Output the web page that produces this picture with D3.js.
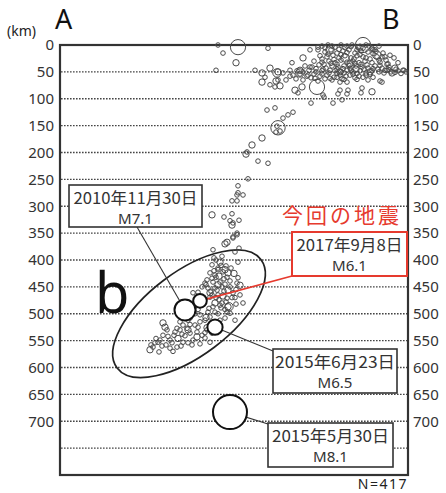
<!DOCTYPE html>
<html><head><meta charset="utf-8">
<script src="https://cdn.jsdelivr.net/npm/d3@7"></script>
<style>body{margin:0;background:#fff;} svg{display:block;}</style>
</head><body>
<svg id="chart" width="446" height="493"></svg>
<script>
// ---- data ----
const depthTicks = [0,50,100,150,200,250,300,350,400,450,500,550,600,650,700];
const gridDepths = [50,100,150,200,250,300,350,400,450,500,550,600,650,700,750];
// [distance along A-B (km, arbitrary origin), depth (km), magnitude]
const quakes = [
 // shallow sparse
 [158,0,4.3],[178,4,6.5],[163,15,4.3],[176,33,5.0],[208,6,4.3],[156,47,4.3],[205,60,4.3],[218,50,5.0],
 [216,67,5.0],[215,78,4.3],[230,58,4.3],[232,33,4.3],[240,47,5.0],[243,24,5.0],[235,84,5.0],[242,78,5.0],
 [257,78,6.5],[250,41,4.3],[258,4,4.3],[250,9,4.3],[264,97,4.3],[251,108,4.3],[273,108,4.3],[282,102,4.3],
 [280,69,4.3],[287,69,4.3],[280,84,4.3],[288,84,4.3],[302,80,4.3],[312,87,5.0],[322,69,4.3],[322,22,4.3],
 [303,0,6.5],[313,9,4.3],[335,43,5.0],[327,47,4.3],[277,60,4.3],[195,47,4.3],[202,52,5.0],[210,43,5.0],
 [223,52,4.3],[226,65,4.3],[220,76,5.0],[202,69,5.0],[210,74,4.3],[217,52,5.5],[218,65,4.3],[238,89,4.3],
 [263,93,4.3],[278,91,4.3],[287,91,4.3],[301,89,4.3],[320,67,4.3],
 // shallow dense core
 [262,2,4.3],[268,0,4.3],[275,4,4.3],[281,0,4.3],[287,2,4.3],[292,0,4.3],[298,4,4.3],[306,0,4.3],[312,6,4.3],[319,2,4.3],
 [258,9,4.3],[265,13,4.3],[271,9,4.3],[277,15,4.3],[283,11,4.3],[289,9,4.3],[295,15,4.3],[301,11,4.3],[308,13,4.3],[315,9,4.3],[323,15,4.3],[330,19,4.3],
 [260,20,4.3],[267,22,4.3],[273,19,4.3],[279,24,4.3],[285,20,4.3],[291,24,4.3],[297,20,4.3],[303,22,4.3],[310,26,4.3],[317,22,4.3],[326,28,4.3],[334,24,4.3],
 [254,30,4.3],[262,32,4.3],[269,30,4.3],[275,33,4.3],[281,28,4.3],[287,32,4.3],[293,30,4.3],[299,33,4.3],[305,30,4.3],[312,33,4.3],[320,32,4.3],[328,35,4.3],[338,33,4.3],
 [245,39,4.3],[252,41,4.3],[259,37,4.3],[266,43,4.3],[272,39,4.3],[278,41,4.3],[284,39,4.3],[290,43,4.3],[296,39,4.3],[302,41,4.3],[308,43,4.3],[315,39,4.3],[322,43,4.3],[329,41,4.3],[336,45,4.3],[343,47,4.3],
 [230,47,4.3],[237,48,4.3],[243,50,4.3],[249,47,4.3],[256,50,4.3],[262,48,4.3],[269,52,4.3],[275,48,4.3],[281,50,4.3],[287,47,4.3],[293,50,4.3],[300,48,4.3],[306,52,4.3],[312,48,4.3],[319,50,4.3],[325,47,4.3],[331,50,4.3],[338,48,4.3],[344,47,4.3],
 [233,56,4.3],[240,54,4.3],[247,58,4.3],[254,54,4.3],[260,58,4.3],[267,56,4.3],[274,60,4.3],[280,56,4.3],[286,58,4.3],[293,54,4.3],[299,58,4.3],[306,56,4.3],[313,60,4.3],
 [236,63,4.3],[243,65,4.3],[251,61,4.3],[258,67,4.3],[265,63,4.3],[272,65,4.3],[282,63,4.3],[295,61,4.3],[308,65,4.3],
 [270,9,5.5],[285,24,5.5],[300,4,5.0],[317,19,5.5],[240,52,5.5],[280,50,5.0],[290,35,5.0],[332,52,5.0],[296,45,5.0],[310,50,5.0],
 [263,45,4.3],[270,47,4.3],[277,45,4.3],[284,52,4.3],[291,47,4.3],[297,53,4.3],[304,45,4.3],[310,55,4.3],[318,45,4.3],[324,52,4.3],[329,46,4.3],[335,51,4.3],[341,53,4.3],[346,50,4.3],
 [265,5,4.3],[272,2,4.3],[279,8,4.3],[285,5,4.3],[291,3,4.3],[297,9,4.3],[303,6,4.3],[309,2,4.3],[316,12,4.3],
 [262,26,4.3],[268,17,4.3],[274,27,4.3],[281,18,4.3],[287,14,4.3],[294,26,4.3],[300,18,4.3],[306,24,4.3],[313,16,4.3],[319,28,4.3],[325,22,4.3],
 [256,44,4.3],[264,36,4.3],[271,34,4.3],[277,36,4.3],[283,44,4.3],[289,38,4.3],[295,34,4.3],[301,36,4.3],[307,37,4.3],[313,44,4.3],[320,38,4.3],[327,36,4.3],
 [248,56,4.3],[255,62,4.3],[262,54,4.3],[270,62,4.3],[277,53,4.3],[284,64,4.3],[290,56,4.3],[297,64,4.3],[303,60,4.3],
 // intermediate column
 [207,121,4.3],[215,117,4.3],[233,125,4.3],[228,130,4.3],[223,136,4.3],[218,154,6.3],[217,151,4.3],[220,160,4.3],[216,162,4.3],
 [202,173,5.0],[192,186,5.0],[187,199,4.3],[186,203,5.0],[198,216,4.3],[208,220,4.3],[188,249,4.3],[178,262,4.3],[178,275,4.3],
 [177,279,4.3],[183,279,4.3],[172,290,4.3],[177,290,4.3],[152,316,5.0],[164,320,4.3],[172,314,4.3],[170,327,4.3],[173,331,4.3],
 [172,335,5.0],[179,326,4.3],[177,350,4.3],[173,359,4.3],[167,367,5.0],[175,385,4.3],[179,378,4.3],[153,381,4.3],
 // deep cluster
 [152,409,4.3],[160,404,5.0],[158,415,4.3],[150,424,4.3],[155,428,4.3],[163,422,4.3],[168,424,5.0],[178,433,4.3],[180,447,5.0],
 [177,443,4.3],[147,437,4.3],[153,441,4.3],[160,441,4.3],[142,450,4.3],[148,452,4.3],[155,452,4.3],[162,450,4.3],[168,456,5.0],
 [138,460,4.3],[133,461,4.3],[158,465,4.3],[152,465,4.3],[167,471,4.3],[162,480,4.3],[168,487,5.0],[153,487,4.3],[150,506,4.3],
 [145,512,4.3],[160,512,4.3],[140,515,4.3],[135,521,4.3],[123,521,4.3],[117,527,4.3],[107,530,4.3],[103,540,4.3],[100,549,4.3],
 [95,554,4.3],[110,549,4.3],[130,536,4.3],[147,530,4.3],[142,540,4.3],[133,549,4.3],[123,553,4.3],[117,562,4.3],[152,521,4.3],
 [103,517,5.0],[90,567,5.0],[93,562,4.3],[98,553,4.3],[115,534,4.3],[120,530,4.3],[127,527,4.3],[128,554,4.3],[137,534,4.3],
 [112,554,4.3],[105,525,5.0],[167,497,4.3],[154,396,4.3],[162,393,4.3],[166,411,4.3],[171,415,4.3],[156,432,4.3],[164,435,4.3],
 [145,443,4.3],[170,439,4.3],[151,458,4.3],[173,461,4.3],[159,474,4.3],[166,478,4.3],[144,474,4.3],[176,482,4.3],[155,497,4.3],
 [170,499,4.3],[148,497,4.3],[165,508,4.3],[140,502,4.3],[175,512,4.3],[152,536,4.3],[128,512,4.3],[120,515,4.3],[114,540,4.3],
 [106,558,4.3],[91,558,4.3],[99,571,4.3],[110,564,4.3],[125,541,4.3],[132,558,4.3],[145,545,4.3],[178,404,4.3],[180,465,4.3],
 [183,480,4.3],[157,456,4.3],[161,489,4.3],[150,469,4.3],[169,487,5.5],[147,526,5.0],[158,418,4.3],[165,445,4.3],
 [156,400,4.3],[161,410,4.3],[165,418,5.0],[154,420,4.3],[159,430,5.0],[167,432,4.3],[152,434,4.3],[158,446,5.0],[164,458,4.3],
 [170,450,4.3],[146,446,4.3],[150,461,5.0],[156,470,4.3],[163,467,5.0],[172,470,4.3],[160,484,4.3],[155,480,5.0],[165,492,4.3],
 [158,500,4.3],[149,490,4.3],[143,483,4.3],[138,492,4.3],[146,507,5.0],[135,500,4.3],[130,508,4.3],[138,525,4.3],[128,530,5.0],
 [122,538,4.3],[118,546,5.0],[108,542,4.3],[102,560,4.3],[96,546,4.3],[113,570,4.3],[121,560,4.3],[140,556,4.3],[150,553,4.3],
 [137,543,5.0],[145,535,4.3],[130,520,4.3],[175,470,4.3],[174,425,5.0],[176,455,4.3],[165,370,5.0],[173,357,4.3],[177,353,4.3]
];
// highlighted events
const hlDates = ["2010年11月30日","2017年9月8日","2015年6月23日","2015年5月30日"];
const hlMagLabels = ["M7.1","M6.1","M6.5","M8.1"];
const hlDist = [125,140,155,170];
const hlDepth = [493,476,525,683];
const hlMag = [7.1,6.1,6.5,8.1];
const totalCount = "N=417";

// ---- chart ----
const svg = d3.select("#chart");
const W = 446, H = 493;
const x = d3.scaleLinear([0,348],[60,408]);
const y = d3.scaleLinear([0,800],[45,475]);
const r = d3.scaleLinear([4.3,5.0,5.5,6.1,6.5,7.1,8.1],[2.3,3.2,4.2,6.8,7.6,10.5,17]);

svg.append("rect").attr("width",W).attr("height",H).attr("fill","#fff");

// grid
svg.append("g").selectAll("line").data(gridDepths).join("line")
  .attr("x1",61).attr("x2",407).attr("y1",d=>y(d)).attr("y2",d=>y(d))
  .attr("stroke","#444").attr("stroke-width",1.3).attr("stroke-dasharray","1.6,1.4");

// axes
const tickFont = "'Noto Sans', sans-serif";
const gl = svg.append("g").attr("transform","translate(60,0)")
  .call(d3.axisLeft(y).tickValues(depthTicks).tickSize(0).tickPadding(6));
const gr = svg.append("g").attr("transform","translate(408,0)")
  .call(d3.axisRight(y).tickValues(depthTicks).tickSize(0).tickPadding(5));
[gl,gr].forEach(g=>{
  g.select(".domain").remove();
  g.selectAll("text").attr("font-family",tickFont).attr("font-size",15).attr("fill","#333");
});

// frame
svg.append("rect").attr("x",60).attr("y",45).attr("width",348).attr("height",430)
  .attr("fill","none").attr("stroke","#333").attr("stroke-width",2.2);

// ellipse
const ecx = x(129), ecy = y(500);
svg.append("ellipse").attr("cx",ecx).attr("cy",ecy).attr("rx",90).attr("ry",42)
  .attr("transform",`rotate(-37,${ecx},${ecy})`)
  .attr("fill","none").attr("stroke","#222").attr("stroke-width",1.7);

// points
svg.append("g").selectAll("circle").data(quakes).join("circle")
  .attr("cx",d=>x(d[0])).attr("cy",d=>y(d[1])).attr("r",d=>r(d[2]))
  .attr("fill","none").attr("stroke","#4a4a4a").attr("stroke-width",1);

// annotation boxes layout
const boxes = [
  {x:69,y:185,w:133,h:42,ax:137,ay:227,t1:124,red:false},
  {x:292,y:232,w:115,h:44,ax:292,ay:276,t1:106,red:true},
  {x:273,y:349,w:124,h:44,ax:273,ay:351,t1:120,red:false},
  {x:268,y:423,w:125,h:44,ax:268,ay:424,t1:117,red:false}
];
const RED = "#e63a2e";

// leader lines
svg.append("g").selectAll("line").data(boxes).join("line")
  .attr("x1",(b,i)=>x(hlDist[i])).attr("y1",(b,i)=>y(hlDepth[i]))
  .attr("x2",b=>b.ax).attr("y2",b=>b.ay)
  .attr("stroke",b=>b.red?RED:"#333").attr("stroke-width",b=>b.red?1.8:1.1);

// highlighted circles
svg.append("g").selectAll("circle").data(hlMag).join("circle")
  .attr("cx",(d,i)=>x(hlDist[i])).attr("cy",(d,i)=>y(hlDepth[i])).attr("r",d=>r(d))
  .attr("fill","#fff").attr("stroke","#111").attr("stroke-width",2);

// boxes
const bg = svg.append("g").selectAll("g").data(boxes).join("g");
bg.append("rect").attr("x",b=>b.x).attr("y",b=>b.y).attr("width",b=>b.w).attr("height",b=>b.h)
  .attr("fill","#fff").attr("stroke",b=>b.red?RED:"#333").attr("stroke-width",b=>b.red?2:1.6);
const jp = "'Noto Sans CJK JP', sans-serif";
bg.append("text").attr("x",b=>b.x+b.w/2).attr("y",b=>b.y+19).attr("text-anchor","middle")
  .attr("font-family",jp).attr("font-size",16).attr("fill","#333")
  .attr("textLength",b=>b.t1).attr("lengthAdjust","spacingAndGlyphs")
  .text((b,i)=>hlDates[i]);
bg.append("text").attr("x",b=>b.x+b.w/2).attr("y",b=>b.y+39).attr("text-anchor","middle")
  .attr("font-family",tickFont).attr("font-size",14.5).attr("fill","#333")
  .attr("textLength",35).attr("lengthAdjust","spacingAndGlyphs")
  .text((b,i)=>hlMagLabels[i]);

// red title
svg.append("text").attr("x",282).attr("y",223).attr("font-family",jp).attr("font-size",21)
  .attr("letter-spacing",3).attr("fill",RED).text("今回の地震");

// labels
svg.append("text").attr("x",7).attr("y",36).attr("font-family",tickFont).attr("font-size",14).attr("fill","#222").text("(km)");
svg.append("text").attr("x",55).attr("y",29).attr("font-family",tickFont).attr("font-size",27).attr("fill","#111").text("A");
svg.append("text").attr("x",382).attr("y",29).attr("font-family",tickFont).attr("font-size",27).attr("fill","#111").text("B");
svg.append("text").attr("x",95).attr("y",313).attr("font-family",tickFont).attr("font-size",56).attr("fill","#111").text("b");
svg.append("text").attr("x",408).attr("y",489).attr("text-anchor","end").attr("font-family",tickFont)
  .attr("font-size",14).attr("letter-spacing",1.5).attr("fill","#222").text(totalCount);
</script>
</body></html>
